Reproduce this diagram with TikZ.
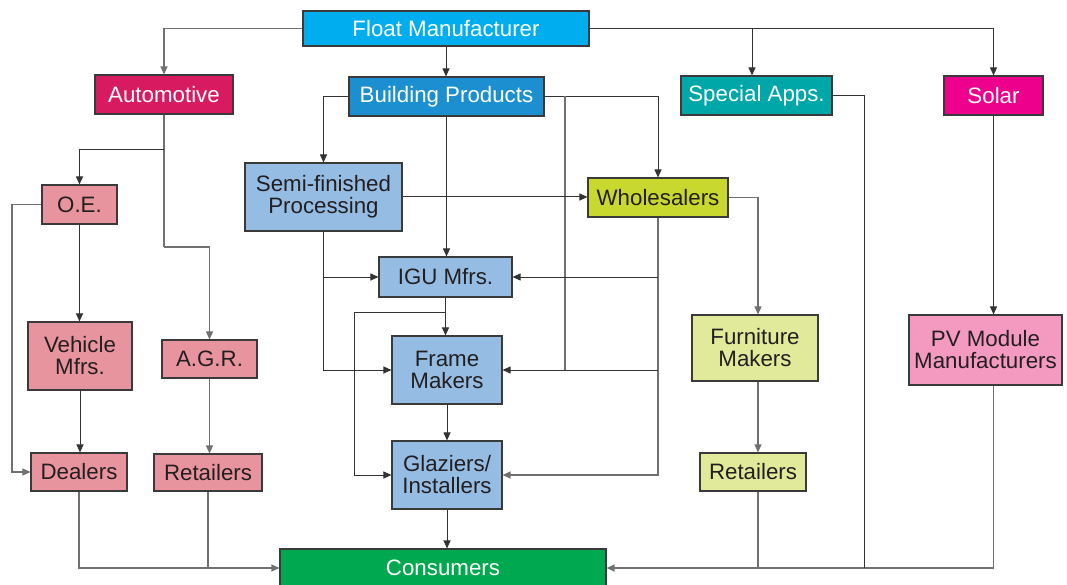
\documentclass[tikz,border=0pt]{standalone}
\usepackage{fontspec}
\setmainfont{Liberation Sans}
\usetikzlibrary{arrows.meta}
\definecolor{cFloat}{HTML}{00AEEF}
\definecolor{cAuto}{HTML}{D81B60}
\definecolor{cBuild}{HTML}{1C8FD1}
\definecolor{cSpec}{HTML}{00A7A8}
\definecolor{cSolar}{HTML}{EC008C}
\definecolor{cLBlue}{HTML}{95BDE4}
\definecolor{cWhole}{HTML}{C8D82E}
\definecolor{cPale}{HTML}{E1EA9B}
\definecolor{cPink}{HTML}{E8949F}
\definecolor{cPV}{HTML}{F49AC1}
\definecolor{cCons}{HTML}{00A94F}
\definecolor{cText}{HTML}{231F20}
\definecolor{cBorder}{HTML}{3A3A3A}
\definecolor{cDark}{HTML}{333333}
\definecolor{cGray}{HTML}{707070}
\tikzset{
  box/.style={draw=cBorder, line width=1.1pt, inner sep=0pt, align=center,
    font=\fontsize{22.3}{22}\selectfont, text=cText},
  wbox/.style={box, text=white},
  conn/.style={line width=1pt, draw=cDark},
  grayline/.style={line width=1.2pt, draw=cGray},
  arr/.style={-{Triangle[length=8pt,width=7pt]}},
}
\begin{document}
\begin{tikzpicture}[x=1pt,y=-1pt]
\useasboundingbox (0,0) rectangle (1067,585);
% nodes
\node[wbox, fill=cFloat, minimum width=286, minimum height=35] (float) at (446,28.5) {Float Manufacturer};
\node[wbox, fill=cAuto, minimum width=138, minimum height=39] (auto) at (164,94.5) {Automotive};
\node[wbox, fill=cBuild, minimum width=195, minimum height=39] (build) at (446.5,96.5) {Building Products};
\node[wbox, fill=cSpec, minimum width=151, minimum height=39] (special) at (756.5,95.5) {Special Apps.};
\node[wbox, fill=cSolar, minimum width=99, minimum height=39] (solar) at (993.5,95.5) {Solar};
\node[box, fill=cLBlue, minimum width=157, minimum height=68] (semi) at (323.5,197) {Semi-finished\\Processing};
\node[box, fill=cWhole, minimum width=140, minimum height=39] (whole) at (658,197.5) {Wholesalers};
\node[box, fill=cPink, minimum width=75, minimum height=39] (oe) at (79.5,204.5) {O.E.};
\node[box, fill=cLBlue, minimum width=133, minimum height=40] (igu) at (445.5,277) {IGU Mfrs.};
\node[box, fill=cLBlue, minimum width=110, minimum height=68] (frame) at (447,370) {Frame\\Makers};
\node[box, fill=cLBlue, minimum width=110, minimum height=68] (glaz) at (447,475) {Glaziers/\\Installers};
\node[box, fill=cPink, minimum width=104, minimum height=68] (veh) at (80,356) {Vehicle\\Mfrs.};
\node[box, fill=cPink, minimum width=95, minimum height=38] (agr) at (209.5,359) {A.G.R.};
\node[box, fill=cPink, minimum width=96, minimum height=38] (dealers) at (79,472) {\raisebox{-2pt}{Dealers}};
\node[box, fill=cPink, minimum width=108, minimum height=37] (retl) at (208,472.5) {\raisebox{-2pt}{Retailers}};
\node[box, fill=cPale, minimum width=126, minimum height=66] (furn) at (755,348) {Furniture\\Makers};
\node[box, fill=cPale, minimum width=106, minimum height=38] (retr) at (753,472) {Retailers};
\node[box, fill=cPV, minimum width=153, minimum height=70] (pv) at (985.5,350) {PV Module\\Manufacturers};
\node[wbox, fill=cCons, minimum width=326, minimum height=38] (cons) at (443,568) {Consumers};
% helper coordinates
\coordinate (ag) at (164,247);
\coordinate (ao) at (164,150);
\coordinate (oel) at (12,204.5);
\coordinate (b5) at (565,96.5);
\coordinate (ig2) at (445.5,312);
\coordinate (gl) at (354,312);
\coordinate (sp) at (864,568);
% connectors
\draw[grayline,arr] (float.west) -| (auto.north);
\draw[conn,arr] (float.south) -- (float.south |- build.north);
\draw[conn,arr] (float.east) -| (solar.north);
\draw[conn,arr] ([xshift=-4.5]special.north |- float.east) -- ([xshift=-4.5]special.north);
\draw[grayline] (auto.south) -- (ag);
\draw[conn,arr] (ao) -| (oe.north);
\draw[grayline,arr] (ag) -| (agr.north);
\draw[grayline,arr] (oe.west) -- (oel) |- (dealers.west);
\draw[conn,arr] (oe.south) -- (oe.south |- veh.north);
\draw[conn,arr] (veh.south) -- (veh.south |- dealers.north);
\draw[grayline,arr] (agr.south) -- (agr.south |- retl.north);
\draw[grayline,arr] (dealers.south) |- (cons.west);
\draw[grayline] (retl.south) -- (retl.south |- cons.west);
\draw[conn,arr] (build.west) -| (semi.north);
\draw[conn,arr] (build.south) -- (build.south |- igu.north);
\draw[conn,arr] (build.east) -| (whole.north);
\draw[grayline] (b5) -- (b5 |- frame.east);
\draw[conn,arr] (semi.east) -- (semi.east -| whole.west);
\draw[conn,arr] (semi.south) |- (frame.west);
\draw[conn,arr] (semi.south |- igu.west) -- (igu.west);
\draw[grayline,arr] (whole.south) |- (glaz.east);
\draw[conn,arr] (whole.south |- igu.east) -- (igu.east);
\draw[conn,arr] (whole.south |- frame.east) -- (frame.east);
\draw[conn,arr] (igu.south) -- (igu.south |- frame.north);
\draw[conn,arr] (ig2) -- (gl) |- (glaz.west);
\draw[conn,arr] (frame.south) -- (glaz.north);
\draw[conn,arr] (glaz.south) -- (glaz.south |- cons.north);
\draw[grayline,arr] (whole.east) -| ([xshift=3]furn.north);
\draw[grayline,arr] ([xshift=3]furn.south) -- ([xshift=3]furn.south |- retr.north);
\draw[conn,arr] (solar.south) -- (solar.south |- pv.north);
\draw[grayline,arr] (solar.south |- pv.south) |- (cons.east);
\draw[conn] (special.east) -| (sp);
\draw[grayline] ([xshift=5]retr.south) -- ([xshift=5]retr.south |- cons.east);
\end{tikzpicture}
\end{document}
